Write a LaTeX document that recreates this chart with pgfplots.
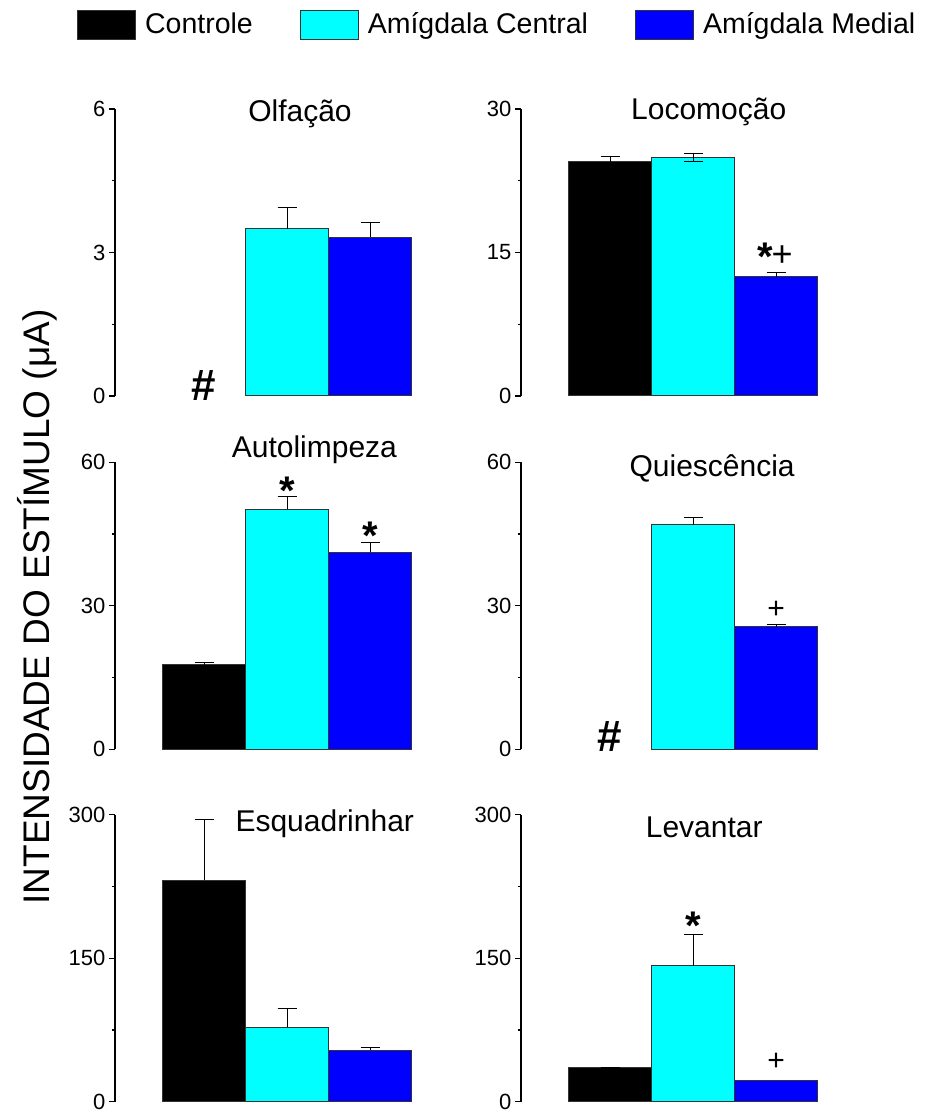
\documentclass[border=0pt]{standalone}
\usepackage{fontspec}
\setmainfont{Liberation Sans}
\usepackage{pgfplots}
\pgfplotsset{compat=1.18}
\definecolor{aqua}{RGB}{0,255,255}
\definecolor{pureblue}{RGB}{0,0,255}
\newcommand\ticksize{\fontsize{11pt}{13pt}\selectfont}
\newcommand\titlesize{\fontsize{15pt}{18pt}\selectfont}
\newcommand\legsize{\fontsize{14.25pt}{17pt}\selectfont}
\newcommand\ylsize{\fontsize{18.5pt}{22pt}\selectfont}
\newcommand\starsize{\fontsize{20pt}{24pt}\selectfont\bfseries}
\newcommand\plussize{\fontsize{15pt}{18pt}\selectfont}
\newcommand\bigplussize{\fontsize{18pt}{22pt}\selectfont}
\newcommand\hashsize{\fontsize{22pt}{26pt}\selectfont}
\pgfplotsset{
  panel/.style={scale only axis, width=172.2pt, height=143.5pt,
    xmin=-1.075, xmax=3.075, ymin=0, anchor=south west,
    axis x line=none, axis y line*=left, xtick=\empty,
    y axis line style={-, line width=0.6pt, black},
    tick align=outside, major tick length=3pt, minor tick length=1.6pt,
    tick style={black, line width=0.6pt},
    yticklabel style={font=\ticksize, xshift=1.75pt},
    /pgf/number format/assume math mode=true,
    clip=false},
  mybar/.style={ybar, bar width=1, bar shift=0pt, draw=black!80, line width=0.5pt,
    legend image code/.code={\draw[##1, line width=0.5pt] (0pt,-7.25pt) rectangle (29pt,7.25pt);}},
  eb/.style={/pgfplots/error bars/y dir=plus, /pgfplots/error bars/y explicit,
    /pgfplots/error bars/error bar style={black, line width=0.5pt},
    /pgfplots/error bars/error mark options={rotate=90, black, mark size=4.75pt, line width=0.5pt}},
  ebb/.style={eb, /pgfplots/error bars/y dir=both},
}
\begin{document}
\begin{tikzpicture}
\path[use as bounding box] (0,0) rectangle (463pt,555.5pt);
% Olfacao
\begin{axis}[panel, at={(57.5pt,357.5pt)}, ymax=6, ytick={0,3,6}, minor ytick={1.5,4.5}]
\addplot[mybar, fill=aqua, eb] coordinates {(1,3.50) +- (0,0.43)};
\addplot[mybar, fill=pureblue, eb] coordinates {(2,3.32) +- (0,0.30)};
\node[font=\titlesize, anchor=base] at (rel axis cs:0.537,0.956) {Olfação};
\node[font=\hashsize\bfseries, anchor=base, inner sep=0pt, yshift=-2.25pt] at (axis cs:0,0) {\#};
\end{axis}
% Locomocao
\begin{axis}[panel, at={(260.5pt,357.5pt)}, ymax=30, ytick={0,15,30}, minor ytick={7.5,22.5},
  legend columns=3,
  legend style={at={(-1.3075,1.294)}, anchor=west, draw=none, fill=none, font=\legsize,
    /tikz/every even column/.append style={column sep=21.5pt},
    /tikz/every odd column/.append style={column sep=2.5pt}}]
\addplot[mybar, fill=black, eb] coordinates {(0,24.46) +- (0,0.6)};
\addlegendentry{Controle}
\addplot[mybar, fill=aqua, ebb] coordinates {(1,24.9) +- (0,0.4)};
\addlegendentry{Amígdala Central}
\addplot[mybar, fill=pureblue, eb] coordinates {(2,12.45) +- (0,0.45)};
\addlegendentry{Amígdala Medial}
\node[font=\titlesize, anchor=base] at (rel axis cs:0.545,0.962) {Locomoção};
\node[font=\starsize, anchor=base, inner sep=0pt] at (axis cs:1.87,13.1) {*};
\node[font=\bigplussize, anchor=base, inner sep=0pt] at (axis cs:2.07,13.5) {+};
\end{axis}
% Autolimpeza
\begin{axis}[panel, at={(57.5pt,180.85pt)}, ymax=60, ytick={0,30,60}, minor ytick={15,45}]
\addplot[mybar, fill=black, eb] coordinates {(0,17.65) +- (0,0.5)};
\addplot[mybar, fill=aqua, eb] coordinates {(1,50.15) +- (0,2.8)};
\addplot[mybar, fill=pureblue, eb] coordinates {(2,41.15) +- (0,2.1)};
\node[font=\titlesize, anchor=base] at (rel axis cs:0.579,1.015) {Autolimpeza};
\node[font=\starsize, anchor=base, inner sep=0pt] at (axis cs:1,51.2) {*};
\node[font=\starsize, anchor=base, inner sep=0pt] at (axis cs:2,41.8) {*};
\end{axis}
% Quiescencia
\begin{axis}[panel, at={(260.5pt,180.85pt)}, ymax=60, ytick={0,30,60}, minor ytick={15,45}]
\addplot[mybar, fill=aqua, eb] coordinates {(1,46.95) +- (0,1.6)};
\addplot[mybar, fill=pureblue, eb] coordinates {(2,25.66) +- (0,0.5)};
\node[font=\titlesize, anchor=base] at (rel axis cs:0.555,0.951) {Quiescência};
\node[font=\plussize, anchor=base, inner sep=0pt] at (axis cs:2,27.4) {+};
\node[font=\hashsize\bfseries, anchor=base, inner sep=0pt, yshift=-1pt] at (axis cs:0,0) {\#};
\end{axis}
% Esquadrinhar
\begin{axis}[panel, at={(57.5pt,4.65pt)}, ymax=300, ytick={0,150,300}, minor ytick={75,225}]
\addplot[mybar, fill=black, eb] coordinates {(0,231.7) +- (0,63)};
\addplot[mybar, fill=aqua, eb] coordinates {(1,77.7) +- (0,19.4)};
\addplot[mybar, fill=pureblue, eb] coordinates {(2,54) +- (0,3)};
\node[font=\titlesize, anchor=base] at (rel axis cs:0.609,0.943) {Esquadrinhar};
\end{axis}
% Levantar
\begin{axis}[panel, at={(260.5pt,4.65pt)}, ymax=300, ytick={0,150,300}, minor ytick={75,225}]
\addplot[mybar, fill=black, eb] coordinates {(0,35.5) +- (0,0.7)};
\addplot[mybar, fill=aqua, eb] coordinates {(1,142) +- (0,33)};
\addplot[mybar, fill=pureblue] coordinates {(2,21.9)};
\node[font=\titlesize, anchor=base] at (rel axis cs:0.532,0.922) {Levantar};
\node[font=\starsize, anchor=base, inner sep=0pt] at (axis cs:1,169.5) {*};
\node[font=\plussize, anchor=base, inner sep=0pt] at (axis cs:2,32.9) {+};
\end{axis}
\node[rotate=90, font=\ylsize, inner sep=0pt] at (18.5pt,252pt) {INTENSIDADE DO ESTÍMULO (μA)};
\end{tikzpicture}
\end{document}
